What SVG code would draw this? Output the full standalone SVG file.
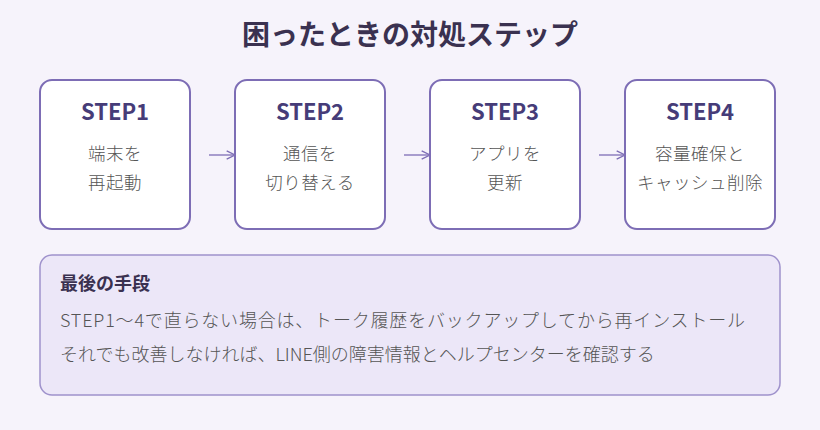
<svg xmlns="http://www.w3.org/2000/svg" width="820" height="430" viewBox="0 0 820 430">
<style>
text{font-family:"Noto Sans CJK JP","Noto Sans",sans-serif}
.box{fill:#fff;stroke:#7d6db5;stroke-width:2}
.step{font-size:22px;font-weight:700;fill:#463c78;text-anchor:middle}
.body{font-size:17.5px;fill:#555;text-anchor:middle;font-weight:300;letter-spacing:0.5px}
.con{stroke:#7d6db5;stroke-width:1.3;fill:none}
</style>
<defs><marker id="ah" viewBox="0 0 10 10" refX="9" refY="5" markerWidth="8" markerHeight="8" orient="auto"><path d="M1,1 L9,5 L1,9" fill="none" stroke="#7d6db5" stroke-width="1.3"/></marker></defs>
<rect width="820" height="430" fill="#f6f3fb"/>
<text x="410" y="45" text-anchor="middle" font-size="28" font-weight="700" fill="#3a3150">困ったときの対処ステップ</text>
<g id="connectors">
<line class="con" x1="209" y1="155" x2="235" y2="155" marker-end="url(#ah)"/>
<line class="con" x1="404" y1="155" x2="430" y2="155" marker-end="url(#ah)"/>
<line class="con" x1="599" y1="155" x2="625" y2="155" marker-end="url(#ah)"/>
</g>
<g id="step1"><rect class="box" x="40" y="80" width="150" height="149" rx="12"/><text class="step" x="115" y="120">STEP1</text><text class="body" x="115" y="160">端末を</text><text class="body" x="115" y="189">再起動</text></g>
<g id="step2"><rect class="box" x="235" y="80" width="150" height="149" rx="12"/><text class="step" x="310" y="120">STEP2</text><text class="body" x="310" y="160">通信を</text><text class="body" x="310" y="189">切り替える</text></g>
<g id="step3"><rect class="box" x="430" y="80" width="150" height="149" rx="12"/><text class="step" x="505" y="120">STEP3</text><text class="body" x="505" y="160">アプリを</text><text class="body" x="505" y="189">更新</text></g>
<g id="step4"><rect class="box" x="625" y="80" width="150" height="149" rx="12"/><text class="step" x="700" y="120">STEP4</text><text class="body" x="700" y="160">容量確保と</text><text class="body" x="700" y="189">キャッシュ削除</text></g>
<g id="last"><rect x="40" y="255" width="740" height="140" rx="12" fill="#ece7f8" stroke="#9f92cc" stroke-width="1.5"/>
<text x="60" y="290" font-size="18" font-weight="700" fill="#3a3150">最後の手段</text>
<text x="60" y="327" font-size="18" fill="#555" font-weight="300" textLength="685">STEP1〜4で直らない場合は、トーク履歴をバックアップしてから再インストール</text>
<text x="60" y="361" font-size="18" fill="#555" font-weight="300">それでも改善しなければ、LINE側の障害情報とヘルプセンターを確認する</text></g>
</svg>
